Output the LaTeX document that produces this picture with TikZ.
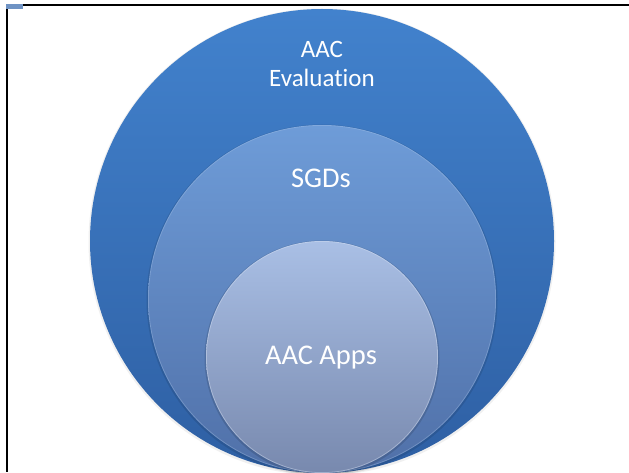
\documentclass[tikz,border=0pt]{standalone}
\usepackage{fontspec}
\setmainfont{Carlito}[Ligatures=CommonOff]
\definecolor{outerTop}{HTML}{4282CD}
\definecolor{outerBot}{HTML}{2E5FA3}
\definecolor{midTop}{HTML}{6E9CD8}
\definecolor{midBot}{HTML}{5070A8}
\definecolor{inTop}{HTML}{A9BFE5}
\definecolor{inBot}{HTML}{7889AE}
\definecolor{markBlue}{HTML}{6F93C4}
\begin{document}
\begin{tikzpicture}[x=1pt,y=1pt,
  lbl/.style={text=white,font=\fontsize{25}{29}\selectfont,anchor=base,inner sep=0pt},
  biglbl/.style={lbl,font=\fontsize{28.5}{33}\selectfont},
  rim/.style={line width=0.8pt}]
\useasboundingbox (0,0) rectangle (629,472);
\fill[white] (0,0) rectangle (629,472);
\begin{scope}
\clip (0,0) rectangle (629,472);
% outer circle
\fill[black!6] (322,230) circle (233.5);
\shade[top color=outerTop,bottom color=outerBot] (322,231) circle (232);
% middle circle
\fill[black,opacity=0.10] (322,172) circle (175.5);
\shade[top color=midTop,bottom color=midBot] (322,173) circle (174);
\draw[rim,white!40!midTop,opacity=0.35] (322,173) circle (173.6);
% inner circle
\fill[black,opacity=0.12] (322,114) circle (117.5);
\shade[top color=inTop,bottom color=inBot] (322,115) circle (116);
\draw[rim,white!50!inTop,opacity=0.45] (322,115) circle (115.6);
\end{scope}
% frame
\coordinate (tl) at (7,467);
\coordinate (tr) at (629,467);
\coordinate (bl) at (7,0);
\draw[line width=2.2pt] (tr) -- (tl) -- (bl);
\fill[markBlue] (6,463) rectangle (23,468);
% labels
\node[lbl] (aac) at (322,414) {AAC};
\node[lbl] (eval) at (322,385) {Evaluation};
\node[biglbl] (sgd) at (321,284) {SGDs};
\node[biglbl] (apps) at (321,108) {AAC Apps};
\end{tikzpicture}
\end{document}
